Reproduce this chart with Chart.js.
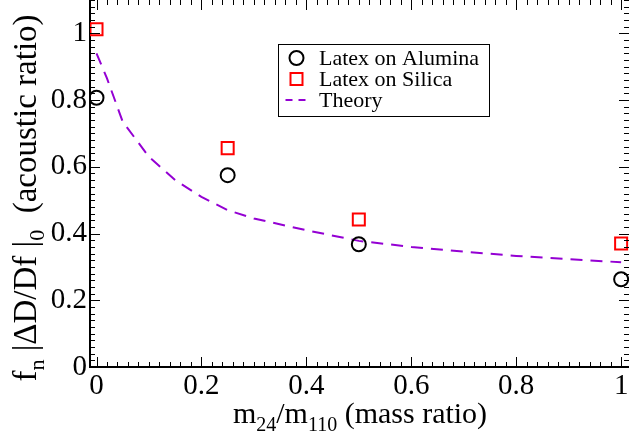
<!DOCTYPE html>
<html lang="en">
<head>
<meta charset="UTF-8">
<title>Acoustic ratio vs mass ratio</title>
<script src="https://cdn.jsdelivr.net/npm/chart.js@4.4.1/dist/chart.umd.min.js"></script>
<style>
  html, body { margin: 0; padding: 0; background: #fff; }
  #wrap { width: 629px; height: 440px; position: relative; }
</style>
</head>
<body>
<div id="wrap"><canvas id="myChart"></canvas></div>
<script>
const massRatio = [0, 0.25, 0.5, 1];
const alumina = [0.807, 0.575, 0.368, 0.263];
const silica = [1.012, 0.656, 0.442, 0.370];

// theory curve (dashed line)
const theoryX = [0, 0.02, 0.05, 0.1, 0.15, 0.2, 0.25, 0.3, 0.4, 0.5, 0.6, 0.7, 0.8, 0.9, 1.0];
const theoryY = [0.94, 0.865, 0.735, 0.63, 0.56, 0.51, 0.47, 0.445, 0.41, 0.378, 0.36, 0.346, 0.333, 0.323, 0.314];

const xTicks = [0, 0.2, 0.4, 0.6, 0.8, 1];
const yTicks = [0, 0.2, 0.4, 0.6, 0.8, 1];

const serif = '"Liberation Serif", "Times New Roman", serif';

function pts(xs, ys) {
  return xs.map((x, i) => ({ x: x, y: ys[i] }));
}

// text pieces with subscripts; size = main font size
function richWidth(ctx, parts, size) {
  let w = 0;
  parts.forEach(p => {
    ctx.font = Math.round(p.sub ? size * 0.66 : size) + 'px ' + serif;
    w += ctx.measureText(p.t).width;
  });
  return w;
}
function drawRich(ctx, parts, x, y, size) {
  parts.forEach(p => {
    ctx.font = Math.round(p.sub ? size * 0.66 : size) + 'px ' + serif;
    ctx.fillText(p.t, x, p.sub ? y + size * 0.25 : y);
    x += ctx.measureText(p.t).width;
  });
}

// inner tick marks on all four sides, plus axis titles
const frameTicks = {
  id: 'frameTicks',
  afterDraw(chart) {
    const { ctx, chartArea: a, scales: { x, y } } = chart;
    ctx.save();
    ctx.strokeStyle = '#000';
    ctx.lineWidth = 1;
    ctx.beginPath();
    for (let i = 0; i <= 50; i++) {
      const px = Math.round(x.getPixelForValue(i * 0.02)) + 0.5;
      const len = i % 10 === 0 ? 10 : 5;
      ctx.moveTo(px, a.bottom); ctx.lineTo(px, a.bottom - len);
      ctx.moveTo(px, a.top); ctx.lineTo(px, a.top + len);
    }
    for (let i = 0; i <= 55; i++) {
      const py = Math.round(y.getPixelForValue(i * 0.02)) + 0.5;
      const len = i % 10 === 0 ? 10 : 5;
      ctx.moveTo(a.left, py); ctx.lineTo(a.left + len, py);
      ctx.moveTo(a.right, py); ctx.lineTo(a.right - len, py);
    }
    ctx.stroke();

    ctx.fillStyle = '#000';
    ctx.textAlign = 'left';
    ctx.textBaseline = 'alphabetic';

    // x title
    const xt = [{ t: 'm' }, { t: '24', sub: true }, { t: '/m' }, { t: '110', sub: true }, { t: ' (mass ratio)' }];
    const xw = richWidth(ctx, xt, 30);
    drawRich(ctx, xt, 360 - xw / 2, 423, 30);

    // y title (rotated)
    const yt = [{ t: 'f' }, { t: 'n', sub: true }, { t: ' |\u0394D/Df |' }, { t: '0', sub: true }, { t: '  (acoustic ratio)' }];
    const yw = richWidth(ctx, yt, 33);
    ctx.translate(36, 198);
    ctx.rotate(-Math.PI / 2);
    drawRich(ctx, yt, -yw / 2, 0, 33);
    ctx.restore();
  }
};

// boxed legend inside the plot
const boxLegend = {
  id: 'boxLegend',
  afterDraw(chart) {
    const ctx = chart.ctx;
    const ds = chart.data.datasets;
    ctx.save();
    ctx.strokeStyle = '#000';
    ctx.lineWidth = 1;
    ctx.strokeRect(278.5, 44.5, 211, 72);
    const rows = [58, 79, 100];
    ds.forEach((d, i) => {
      const cy = rows[i];
      const cx = 296.5;
      ctx.strokeStyle = d.borderColor;
      ctx.lineWidth = 2;
      ctx.setLineDash([]);
      ctx.beginPath();
      if (d.pointStyle === 'circle') {
        ctx.arc(cx, cy, 7, 0, Math.PI * 2);
      } else if (d.pointStyle === 'rect') {
        ctx.rect(cx - 6, cy - 6, 12, 12);
      } else {
        ctx.setLineDash([7, 6]);
        ctx.moveTo(cx - 11, cy); ctx.lineTo(cx + 9, cy);
      }
      ctx.stroke();
      ctx.fillStyle = '#000';
      ctx.font = '22px ' + serif;
      ctx.textBaseline = 'middle';
      ctx.fillText(d.label, 319, cy + 1);
    });
    ctx.restore();
  }
};

const ctx = document.getElementById('myChart').getContext('2d');
const myChart = new Chart(ctx, {
  type: 'scatter',
  data: {
    datasets: [
      {
        label: 'Latex on Alumina',
        data: pts(massRatio, alumina),
        pointStyle: 'circle',
        pointRadius: 7,
        borderColor: '#000000',
        backgroundColor: 'rgba(0,0,0,0)',
        borderWidth: 2
      },
      {
        label: 'Latex on Silica',
        data: pts(massRatio, silica),
        pointStyle: 'rect',
        pointRadius: 8.5,
        borderColor: '#ff0000',
        backgroundColor: 'rgba(0,0,0,0)',
        borderWidth: 2
      },
      {
        label: 'Theory',
        data: pts(theoryX, theoryY),
        showLine: true,
        pointStyle: 'line',
        pointRadius: 0,
        borderColor: '#9400d3',
        borderDash: [12, 8],
        borderWidth: 2,
        fill: false
      }
    ]
  },
  options: {
    responsive: true,
    maintainAspectRatio: false,
    animation: false,
    layout: { padding: 0, autoPadding: false },
    plugins: {
      legend: { display: false },
      tooltip: { enabled: false }
    },
    scales: {
      x: {
        type: 'linear',
        min: -0.0124,
        max: 1.015,
        afterBuildTicks: s => { s.ticks = xTicks.map(v => ({ value: v })); },
        afterFit: s => { s.height = 73; s.paddingLeft = 0; s.paddingRight = 0; },
        ticks: {
          callback: v => String(v),
          color: '#000',
          font: { family: serif, size: 29 },
          padding: 2,
          maxRotation: 0,
          autoSkip: false
        },
        grid: { display: false, drawTicks: false },
        border: { display: true, color: '#000', width: 2 }
      },
      y: {
        type: 'linear',
        min: 0,
        max: 1.1,
        afterBuildTicks: s => { s.ticks = yTicks.map(v => ({ value: v })); },
        afterFit: s => { s.width = 90; s.paddingTop = 0; s.paddingBottom = 0; },
        ticks: {
          callback: v => String(v),
          color: '#000',
          font: { family: serif, size: 29 },
          padding: 3,
          autoSkip: false
        },
        grid: { display: false, drawTicks: false },
        border: { display: true, color: '#000', width: 2 }
      }
    }
  },
  plugins: [frameTicks, boxLegend]
});
</script>
</body>
</html>
